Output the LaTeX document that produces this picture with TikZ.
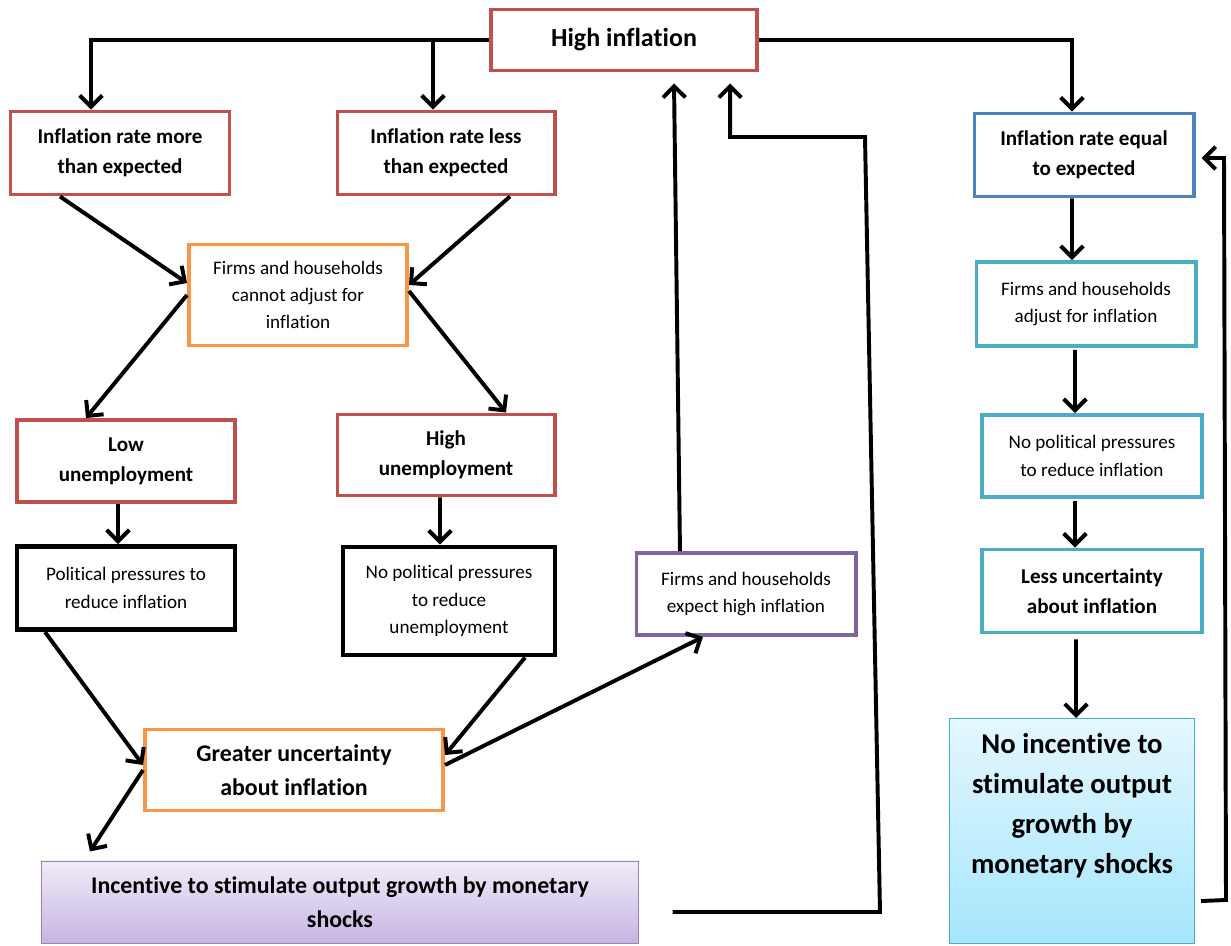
\documentclass[tikz,border=0pt]{standalone}
\usepackage{fontspec}
\setmainfont{Carlito}[Ligatures=NoCommon]
\usetikzlibrary{arrows.meta}
\definecolor{boxred}{HTML}{C0504D}
\definecolor{boxorange}{HTML}{F79646}
\definecolor{boxpurple}{HTML}{8064A2}
\definecolor{boxblue}{HTML}{4F81BD}
\definecolor{boxcyan}{HTML}{4BACC6}
\definecolor{lilactop}{HTML}{F1ECF8}
\definecolor{lilacbot}{HTML}{C6B4E2}
\definecolor{skytop}{HTML}{E4F7FE}
\definecolor{skybot}{HTML}{A5E6FC}
\begin{document}
\begin{tikzpicture}[x=0.025cm,y=-0.025cm,
  arr/.style={-{Straight Barb[length=8pt,width=16pt]},line width=2.8pt},
  box/.style={draw,line width=2.8pt,fill=white,align=center,inner sep=2pt},
  boldtxt/.style={font=\bfseries\fontsize{15}{21.5}\selectfont},
  thintxt/.style={font=\fontsize{13.6}{19.5}\selectfont}]
\useasboundingbox (0,0) rectangle (1231,946);
\node[box,draw=boxred,minimum width=6.65cm,minimum height=1.525cm,font=\bfseries\fontsize{18.5}{22}\selectfont] (hi) at (624,40) {High inflation};
\node[box,draw=boxred,boldtxt,minimum width=5.475cm,minimum height=2.075cm] (more) at (120,153) {Inflation rate more\\than expected};
\node[box,draw=boxred,boldtxt,minimum width=5.425cm,minimum height=2.075cm] (less) at (446,153) {Inflation rate less\\than expected};
\node[box,draw=boxorange,thintxt,minimum width=5.45cm,minimum height=2.525cm] (cannot) at (298,295) {Firms and households\\cannot adjust for\\inflation};
\node[box,draw=boxred,boldtxt,minimum width=5.45cm,minimum height=2.05cm] (lowu) at (126,461) {Low\\unemployment};
\node[box,draw=boxred,boldtxt,minimum width=5.425cm,minimum height=2.025cm] (highu) at (446,455) {High\\unemployment};
\node[box,draw=black,line width=3.5pt,thintxt,minimum width=5.45cm,minimum height=2.075cm] (polit) at (126,588) {Political pressures to\\reduce inflation};
\node[box,draw=black,line width=3.5pt,thintxt,minimum width=5.3cm,minimum height=2.7cm] (nopolit) at (449,601) {No political pressures\\to reduce\\unemployment};
\node[box,draw=boxpurple,thintxt,minimum width=5.475cm,minimum height=2.05cm] (expect) at (746,594) {Firms and households\\expect high inflation};
\node[box,draw=boxorange,minimum width=7.45cm,minimum height=2.025cm,font=\bfseries\fontsize{17}{24}\selectfont] (greater) at (294,770) {Greater uncertainty\\about inflation};
\node[draw=boxpurple!80,line width=0.7pt,top color=lilactop,bottom color=lilacbot,align=center,minimum width=14.9cm,minimum height=2.05cm,font=\bfseries\fontsize{17}{24}\selectfont] (incent) at (340,902) {Incentive to stimulate output growth by monetary\\shocks};
\node[box,draw=boxblue,boldtxt,minimum width=5.475cm,minimum height=2.075cm] (equal) at (1084,155) {Inflation rate equal\\to expected};
\node[box,draw=boxcyan,thintxt,minimum width=5.475cm,minimum height=2.1cm] (adjust) at (1086,304) {Firms and households\\adjust for inflation};
\node[box,draw=boxcyan,thintxt,minimum width=5.5cm,minimum height=2.05cm] (nopress) at (1092,456) {No political pressures\\to reduce inflation};
\node[box,draw=boxcyan,boldtxt,minimum width=5.5cm,minimum height=2.075cm] (lessu) at (1092,591) {Less uncertainty\\about inflation};
\node[draw=boxcyan,line width=0.7pt,top color=skytop,bottom color=skybot,anchor=north,minimum width=6.125cm,minimum height=5.625cm] (noinc) at (1072,718) {};
\node[align=center,anchor=north,font=\bfseries\fontsize{20.4}{28.5}\selectfont] (noinctxt) at (1072,728) {No incentive to\\stimulate output\\growth by\\monetary shocks};
\coordinate (morein) at ([xshift=-0.725cm]more.north);
\coordinate (lessin) at ([xshift=-0.325cm]less.north);
\coordinate (incout) at ([xshift=0.85cm,yshift=-0.25cm]incent.east);
\draw[arr] (hi.west) -| (morein);
\draw[arr] (lessin |- hi.west) -- (lessin);
\draw[arr] (hi.east) -| ([xshift=-0.3cm]equal.north);
\draw[arr] ([xshift=-1.5cm]more.south) -- ([yshift=0.3cm]cannot.west);
\draw[arr] ([xshift=1.6cm]less.south) -- ([yshift=0.25cm]cannot.east);
\draw[arr] (cannot.west) -- ([xshift=-1.0cm]lowu.north);
\draw[arr] ([yshift=0.1cm]cannot.east) -- ([xshift=1.5cm]highu.north);
\draw[arr] ([xshift=-0.2cm]lowu.south) -- ([xshift=-0.2cm]polit.north);
\draw[arr] ([xshift=-0.15cm]highu.south) -- ([xshift=-0.225cm]nopolit.north);
\draw[arr] ([xshift=-2.025cm]polit.south) -- ([yshift=0.125cm]greater.west);
\draw[arr] ([xshift=1.9cm]nopolit.south) -- ([yshift=0.375cm]greater.east);
\draw[arr] ([yshift=0.125cm]greater.east) -- ([xshift=-1.075cm]expect.south);
\draw[arr] (greater.west) -- ([xshift=-6.25cm,yshift=0.225cm]incent.north);
\draw[arr] ([xshift=-1.65cm]expect.north) -- ([xshift=1.25cm,yshift=-0.275cm]hi.south);
\draw[arr] (incout) -- (880,912) -- (865,137) -| ([xshift=2.65cm,yshift=-0.275cm]hi.south);
\draw[arr] ([xshift=0.15cm,yshift=-1.75cm]noinc.east) -- (1226,900) -- (1224,158) -- ([xshift=0.15cm,yshift=-0.075cm]equal.east);
\draw[arr] ([xshift=-0.3cm]equal.south) -- ([xshift=-0.35cm]adjust.north);
\draw[arr] ([xshift=-0.275cm,yshift=-0.05cm]adjust.south) -- ([xshift=-0.425cm]nopress.north);
\draw[arr] ([xshift=-0.425cm,yshift=-0.05cm]nopress.south) -- ([xshift=-0.425cm]lessu.north);
\draw[arr] ([xshift=-0.4cm,yshift=-0.125cm]lessu.south) -- ([xshift=0.1cm]noinc.north);
\end{tikzpicture}
\end{document}
